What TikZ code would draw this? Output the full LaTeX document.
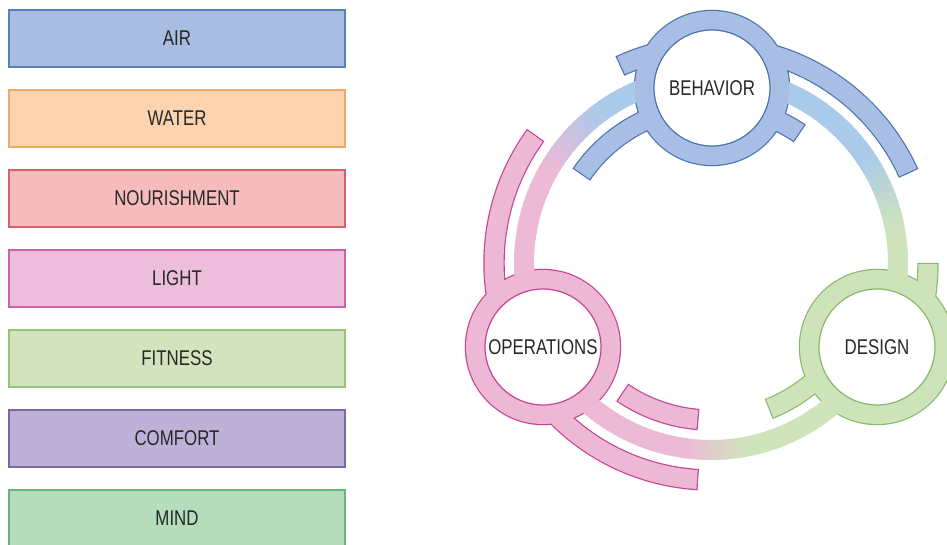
\documentclass[tikz,border=0pt]{standalone}
\usepackage{fontspec}
\setmainfont{Liberation Sans}[FakeStretch=0.79]
\usepackage{tikz}
\usetikzlibrary{positioning}

% box colours
\definecolor{airfill}{RGB}{169,189,224}
\definecolor{airline}{RGB}{86,128,190}
\definecolor{waterfill}{RGB}{251,211,174}
\definecolor{waterline}{RGB}{238,170,104}
\definecolor{nourfill}{RGB}{246,188,188}
\definecolor{nourline}{RGB}{214,96,110}
\definecolor{lightfill}{RGB}{237,190,220}
\definecolor{lightline}{RGB}{204,96,170}
\definecolor{fitfill}{RGB}{209,228,190}
\definecolor{fitline}{RGB}{150,196,118}
\definecolor{comfill}{RGB}{189,177,216}
\definecolor{comline}{RGB}{120,104,170}
\definecolor{mindfill}{RGB}{181,221,188}
\definecolor{mindline}{RGB}{104,180,122}
% cycle colours
\definecolor{behfill}{RGB}{168,190,228}
\definecolor{behline}{RGB}{74,116,176}
\definecolor{desfill}{RGB}{206,227,186}
\definecolor{desline}{RGB}{136,184,106}
\definecolor{opsfill}{RGB}{236,184,214}
\definecolor{opsline}{RGB}{198,66,148}
\definecolor{bandblue}{RGB}{170,202,234}
\definecolor{bandgreen}{RGB}{208,228,188}
\definecolor{bandpink}{RGB}{236,186,214}
\definecolor{txt}{RGB}{40,40,40}

% ring sector around the cycle centre: radii #1 (inner), #2 (outer), angles #3 to #4
% (outer edge first, so it winds the same way as a circle)
\newcommand{\sector}[4]{(#3:#2) arc[start angle=#3, end angle=#4, radius=#2] -- (#4:#1) arc[start angle=#4, end angle=#3, radius=#1] -- cycle}

% the pieces that belong to each hub
\newcommand{\behaviorparts}{(bc) circle[radius=77]
    \sector{207.5}{226.5}{24.7}{85}
    \sector{147.5}{166.5}{56}{76}
    \sector{207.5}{226.5}{100}{114.5}
    \sector{147.5}{166.5}{100}{145.3}}
\newcommand{\designparts}{(dc) circle[radius=77]
    \sector{207.5}{226.5}{-14}{-0.3}
    \sector{147.5}{166.5}{-68}{-40}}
\newcommand{\operationsparts}{(oc) circle[radius=77]
    \sector{207.5}{226.5}{144.2}{196}
    \sector{207.5}{226.5}{224}{266.3}
    \sector{147.5}{166.5}{236}{265}}

\begin{document}
\begin{tikzpicture}[x=0.75pt, y=0.75pt,
    factor/.style={draw, line width=1.1pt, minimum width=252pt, minimum height=42.75pt,
        inner sep=0pt, outer sep=0pt, text=txt, font=\fontsize{16}{18}\selectfont},
    hub/.style={circle, fill=white, line width=0.9pt, minimum size=87pt,
        inner sep=0pt, text=txt, font=\fontsize{16}{18}\selectfont}]

    \useasboundingbox (0,0) rectangle (947,544);
    \clip (0,0) rectangle (947,544);

    % Seven concept boxes, stacked
    \node[factor, fill=airfill, draw=airline] (air) at (177,505.5) {AIR};
    \node[factor, fill=waterfill, draw=waterline, below=17.25pt of air] (water) {WATER};
    \node[factor, fill=nourfill, draw=nourline, below=17.25pt of water] (nourishment) {NOURISHMENT};
    \node[factor, fill=lightfill, draw=lightline, below=17.25pt of nourishment] (light) {LIGHT};
    \node[factor, fill=fitfill, draw=fitline, below=17.25pt of light] (fitness) {FITNESS};
    \node[factor, fill=comfill, draw=comline, below=17.25pt of fitness] (comfort) {COMFORT};
    \node[factor, fill=mindfill, draw=mindline, below=17.25pt of comfort] (mind) {MIND};

    % Centre of the cycle and of the three hubs
    \coordinate (hubc) at (711,281);
    \coordinate (bc) at (712,456);
    \coordinate (dc) at (877,197);
    \coordinate (oc) at (543,197);

    \begin{scope}[shift={(hubc)}]
        % outlines of the hub pieces
        \filldraw[fill=behfill, draw=behline, line width=1.8pt] \behaviorparts;
        \filldraw[fill=desfill, draw=desline, line width=1.8pt] \designparts;
        \filldraw[fill=opsfill, draw=opsline, line width=1.8pt] \operationsparts;

        % main band, colour blended piece by piece
        \foreach \a in {-60,-58,...,70}{
            \pgfmathtruncatemacro{\p}{max(0,min(100,(\a-9)*4))}
            \pgfmathsetmacro{\b}{\a+2.6}
            \fill[bandblue!\p!bandgreen] \sector{177}{197}{\a}{\b};
        }
        \foreach \a in {72,74,...,200}{
            \pgfmathtruncatemacro{\p}{max(0,min(100,(\a-124)*4))}
            \pgfmathsetmacro{\b}{\a+2.6}
            \fill[bandpink!\p!bandblue] \sector{177}{197}{\a}{\b};
        }
        \foreach \a in {202,204,...,298}{
            \pgfmathtruncatemacro{\p}{max(0,min(100,(\a-261)*5.5))}
            \pgfmathsetmacro{\b}{\a+2.6}
            \fill[bandgreen!\p!bandpink] \sector{177}{197}{\a}{\b};
        }

        % refill so each hub reads as one shape
        \fill[behfill] \behaviorparts;
        \fill[desfill] \designparts;
        \fill[opsfill] \operationsparts;
    \end{scope}

    % The three hubs
    \node[hub, draw=behline] (behavior) at (bc) {BEHAVIOR};
    \node[hub, draw=desline] (design) at (dc) {DESIGN};
    \node[hub, draw=opsline] (operations) at (oc) {OPERATIONS};

\end{tikzpicture}
\end{document}
